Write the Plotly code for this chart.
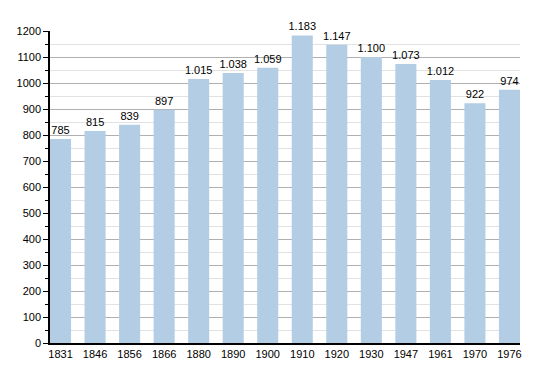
import plotly.graph_objects as go

years = ["1831", "1846", "1856", "1866", "1880", "1890", "1900", "1910",
         "1920", "1930", "1947", "1961", "1970", "1976"]
population = [785, 815, 839, 897, 1015, 1038, 1059, 1183, 1147, 1100,
              1073, 1012, 922, 974]
y_ticks = list(range(0, 1201, 100))

fig = go.Figure(go.Bar(
    x=years, y=population,
    marker=dict(color="#b3cde4", line=dict(width=0)),
    width=0.61,
    texttemplate="%{y:,}", textposition="outside",
    textfont=dict(family="Liberation Sans, Arial, sans-serif", size=11, color="#000"),
    constraintext="none",
    cliponaxis=False,
))

fig.update_layout(
    width=542, height=365,
    margin=dict(l=42, r=30, t=23, b=30, autoexpand=False),
    paper_bgcolor="white", plot_bgcolor="white",
    separators=",.",
    showlegend=False,
    bargap=0.39,
    font=dict(family="Liberation Sans, Arial, sans-serif", size=11, color="#000"),
    xaxis=dict(type="category", range=[-0.305, 13.305], showline=True,
               linecolor="#000", linewidth=1.5, ticks="", showgrid=False,
               tickfont=dict(size=11), automargin=False),
    yaxis=dict(range=[0, 1200], tickvals=y_ticks, showline=True,
               linecolor="#000", linewidth=1.5, ticks="outside", ticklen=5,
               tickcolor="#000", showgrid=True, gridcolor="#b0b0b0",
               gridwidth=1, zeroline=False, tickfont=dict(size=11),
               automargin=False,
               minor=dict(dtick=50, ticks="outside", ticklen=3, tickcolor="#000",
                          showgrid=True, gridcolor="#e2e2e2", gridwidth=1)),
)

fig.write_html("out.html")
